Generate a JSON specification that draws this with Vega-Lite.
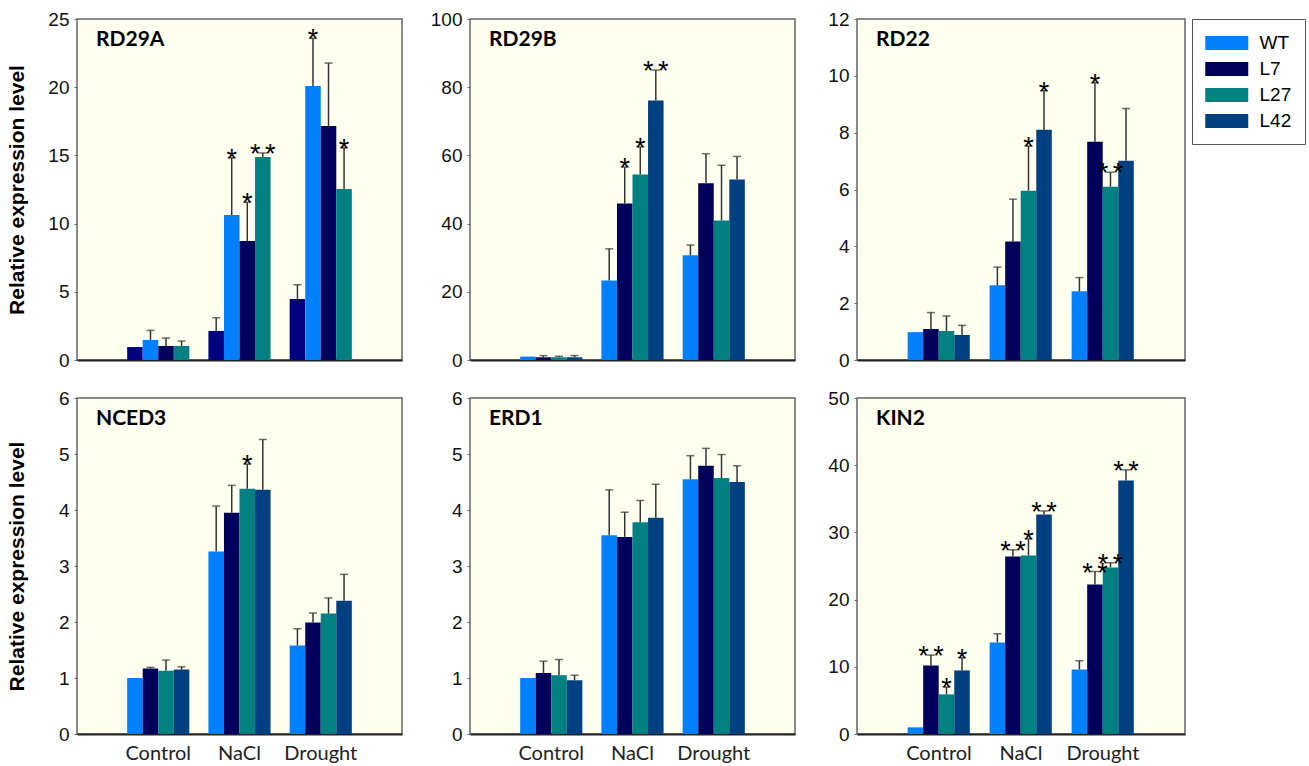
{
  "$schema": "https://vega.github.io/schema/vega-lite/v6.json",
  "padding": {"left": 5, "top": 9, "right": 0, "bottom": 0},
  "background": "white",
  "config": {
    "font": "Liberation Sans",
    "view": {"fill": "#FFFFF0", "stroke": "#666666", "strokeWidth": 1.5},
    "axis": {"grid": false, "ticks": true, "tickSize": 3, "tickColor": "#666666", "domain": false, "labelFont": "Liberation Sans", "labelFontSize": 19, "labelColor": "#111111", "labelPadding": 5},
    "axisX": {"domain": true, "ticks": false, "domainColor": "#222222", "domainWidth": 2, "title": null, "labelAngle": 0},
    "title": {"font": "Lato", "fontSize": 21, "fontWeight": "bold", "anchor": "start", "frame": "group", "baseline": "top", "offset": -40, "dx": 19, "color": "#000000"}
  },
  "datasets": {
    "expr": [
      {"gene": "RD29A", "condition": "Control", "genotype": "WT", "value": 0.95, "err": null, "sig": ""},
      {"gene": "RD29A", "condition": "Control", "genotype": "L7", "value": 1.47, "err": 2.17, "sig": ""},
      {"gene": "RD29A", "condition": "Control", "genotype": "L27", "value": 1.03, "err": 1.61, "sig": ""},
      {"gene": "RD29A", "condition": "Control", "genotype": "L42", "value": 1.03, "err": 1.39, "sig": ""},
      {"gene": "RD29A", "condition": "NaCl", "genotype": "WT", "value": 2.13, "err": 3.10, "sig": ""},
      {"gene": "RD29A", "condition": "NaCl", "genotype": "L7", "value": 10.63, "err": 14.83, "sig": "*"},
      {"gene": "RD29A", "condition": "NaCl", "genotype": "L27", "value": 8.72, "err": 11.56, "sig": "*"},
      {"gene": "RD29A", "condition": "NaCl", "genotype": "L42", "value": 14.88, "err": 15.18, "sig": "*\u2006*"},
      {"gene": "RD29A", "condition": "Drought", "genotype": "WT", "value": 4.47, "err": 5.52, "sig": ""},
      {"gene": "RD29A", "condition": "Drought", "genotype": "L7", "value": 20.09, "err": 23.58, "sig": "*"},
      {"gene": "RD29A", "condition": "Drought", "genotype": "L27", "value": 17.16, "err": 21.77, "sig": ""},
      {"gene": "RD29A", "condition": "Drought", "genotype": "L42", "value": 12.54, "err": 15.57, "sig": "*"},

      {"gene": "RD29B", "condition": "Control", "genotype": "WT", "value": 1.0, "err": null, "sig": ""},
      {"gene": "RD29B", "condition": "Control", "genotype": "L7", "value": 0.8, "err": 1.3, "sig": ""},
      {"gene": "RD29B", "condition": "Control", "genotype": "L27", "value": 0.8, "err": 1.1, "sig": ""},
      {"gene": "RD29B", "condition": "Control", "genotype": "L42", "value": 0.8, "err": 1.3, "sig": ""},
      {"gene": "RD29B", "condition": "NaCl", "genotype": "WT", "value": 23.3, "err": 32.6, "sig": ""},
      {"gene": "RD29B", "condition": "NaCl", "genotype": "L7", "value": 45.9, "err": 56.6, "sig": "*"},
      {"gene": "RD29B", "condition": "NaCl", "genotype": "L27", "value": 54.4, "err": 62.5, "sig": "*"},
      {"gene": "RD29B", "condition": "NaCl", "genotype": "L42", "value": 76.1, "err": 85.0, "sig": "*\u2006*"},
      {"gene": "RD29B", "condition": "Drought", "genotype": "WT", "value": 30.7, "err": 33.7, "sig": ""},
      {"gene": "RD29B", "condition": "Drought", "genotype": "L7", "value": 51.8, "err": 60.5, "sig": ""},
      {"gene": "RD29B", "condition": "Drought", "genotype": "L27", "value": 40.9, "err": 57.1, "sig": ""},
      {"gene": "RD29B", "condition": "Drought", "genotype": "L42", "value": 52.9, "err": 59.7, "sig": ""},

      {"gene": "RD22", "condition": "Control", "genotype": "WT", "value": 0.98, "err": null, "sig": ""},
      {"gene": "RD22", "condition": "Control", "genotype": "L7", "value": 1.09, "err": 1.67, "sig": ""},
      {"gene": "RD22", "condition": "Control", "genotype": "L27", "value": 1.02, "err": 1.55, "sig": ""},
      {"gene": "RD22", "condition": "Control", "genotype": "L42", "value": 0.88, "err": 1.22, "sig": ""},
      {"gene": "RD22", "condition": "NaCl", "genotype": "WT", "value": 2.63, "err": 3.27, "sig": ""},
      {"gene": "RD22", "condition": "NaCl", "genotype": "L7", "value": 4.17, "err": 5.66, "sig": ""},
      {"gene": "RD22", "condition": "NaCl", "genotype": "L27", "value": 5.96, "err": 7.53, "sig": "*"},
      {"gene": "RD22", "condition": "NaCl", "genotype": "L42", "value": 8.10, "err": 9.48, "sig": "*"},
      {"gene": "RD22", "condition": "Drought", "genotype": "WT", "value": 2.42, "err": 2.90, "sig": ""},
      {"gene": "RD22", "condition": "Drought", "genotype": "L7", "value": 7.68, "err": 9.76, "sig": "*"},
      {"gene": "RD22", "condition": "Drought", "genotype": "L27", "value": 6.10, "err": 6.61, "sig": "*\u2006*"},
      {"gene": "RD22", "condition": "Drought", "genotype": "L42", "value": 7.01, "err": 8.85, "sig": ""},

      {"gene": "NCED3", "condition": "Control", "genotype": "WT", "value": 1.0, "err": null, "sig": ""},
      {"gene": "NCED3", "condition": "Control", "genotype": "L7", "value": 1.17, "err": 1.19, "sig": ""},
      {"gene": "NCED3", "condition": "Control", "genotype": "L27", "value": 1.13, "err": 1.32, "sig": ""},
      {"gene": "NCED3", "condition": "Control", "genotype": "L42", "value": 1.15, "err": 1.20, "sig": ""},
      {"gene": "NCED3", "condition": "NaCl", "genotype": "WT", "value": 3.26, "err": 4.07, "sig": ""},
      {"gene": "NCED3", "condition": "NaCl", "genotype": "L7", "value": 3.95, "err": 4.44, "sig": ""},
      {"gene": "NCED3", "condition": "NaCl", "genotype": "L27", "value": 4.38, "err": 4.82, "sig": "*"},
      {"gene": "NCED3", "condition": "NaCl", "genotype": "L42", "value": 4.36, "err": 5.26, "sig": ""},
      {"gene": "NCED3", "condition": "Drought", "genotype": "WT", "value": 1.58, "err": 1.88, "sig": ""},
      {"gene": "NCED3", "condition": "Drought", "genotype": "L7", "value": 1.99, "err": 2.16, "sig": ""},
      {"gene": "NCED3", "condition": "Drought", "genotype": "L27", "value": 2.15, "err": 2.43, "sig": ""},
      {"gene": "NCED3", "condition": "Drought", "genotype": "L42", "value": 2.38, "err": 2.85, "sig": ""},

      {"gene": "ERD1", "condition": "Control", "genotype": "WT", "value": 1.0, "err": null, "sig": ""},
      {"gene": "ERD1", "condition": "Control", "genotype": "L7", "value": 1.09, "err": 1.30, "sig": ""},
      {"gene": "ERD1", "condition": "Control", "genotype": "L27", "value": 1.05, "err": 1.33, "sig": ""},
      {"gene": "ERD1", "condition": "Control", "genotype": "L42", "value": 0.96, "err": 1.05, "sig": ""},
      {"gene": "ERD1", "condition": "NaCl", "genotype": "WT", "value": 3.55, "err": 4.36, "sig": ""},
      {"gene": "ERD1", "condition": "NaCl", "genotype": "L7", "value": 3.52, "err": 3.96, "sig": ""},
      {"gene": "ERD1", "condition": "NaCl", "genotype": "L27", "value": 3.78, "err": 4.17, "sig": ""},
      {"gene": "ERD1", "condition": "NaCl", "genotype": "L42", "value": 3.86, "err": 4.46, "sig": ""},
      {"gene": "ERD1", "condition": "Drought", "genotype": "WT", "value": 4.55, "err": 4.97, "sig": ""},
      {"gene": "ERD1", "condition": "Drought", "genotype": "L7", "value": 4.79, "err": 5.10, "sig": ""},
      {"gene": "ERD1", "condition": "Drought", "genotype": "L27", "value": 4.57, "err": 4.99, "sig": ""},
      {"gene": "ERD1", "condition": "Drought", "genotype": "L42", "value": 4.50, "err": 4.79, "sig": ""},

      {"gene": "KIN2", "condition": "Control", "genotype": "WT", "value": 0.99, "err": null, "sig": ""},
      {"gene": "KIN2", "condition": "Control", "genotype": "L7", "value": 10.2, "err": 11.74, "sig": "*\u2006*"},
      {"gene": "KIN2", "condition": "Control", "genotype": "L27", "value": 5.90, "err": 6.99, "sig": "*"},
      {"gene": "KIN2", "condition": "Control", "genotype": "L42", "value": 9.46, "err": 11.35, "sig": "*"},
      {"gene": "KIN2", "condition": "NaCl", "genotype": "WT", "value": 13.63, "err": 14.92, "sig": ""},
      {"gene": "KIN2", "condition": "NaCl", "genotype": "L7", "value": 26.41, "err": 27.40, "sig": "*\u2006*"},
      {"gene": "KIN2", "condition": "NaCl", "genotype": "L27", "value": 26.56, "err": 29.04, "sig": "*"},
      {"gene": "KIN2", "condition": "NaCl", "genotype": "L42", "value": 32.66, "err": 33.2, "sig": "*\u2006*"},
      {"gene": "KIN2", "condition": "Drought", "genotype": "WT", "value": 9.61, "err": 10.90, "sig": ""},
      {"gene": "KIN2", "condition": "Drought", "genotype": "L7", "value": 22.25, "err": 24.18, "sig": "*\u2006*"},
      {"gene": "KIN2", "condition": "Drought", "genotype": "L27", "value": 24.78, "err": 25.47, "sig": "*\u2006*"},
      {"gene": "KIN2", "condition": "Drought", "genotype": "L42", "value": 37.71, "err": 39.30, "sig": "*\u2006*"}
    ]
  },
  "spacing": 17,
  "resolve": {"scale": {"color": "independent"}},
  "vconcat": [
    {
      "spacing": 26,
      "resolve": {"scale": {"color": "independent"}},
      "hconcat": [
        {
          "width": 325, "height": 341,
          "title": {"text": "RD29A"},
          "data": {"name": "expr"},
          "transform": [{"filter": "datum.gene == 'RD29A'"}],
          "encoding": {
            "x": {"field": "condition", "type": "nominal", "scale": {"domain": ["Control", "NaCl", "Drought"], "paddingInner": 0.235, "paddingOuter": 0.6175}, "axis": {"labels": false}},
            "xOffset": {"field": "genotype", "type": "nominal", "scale": {"domain": ["WT", "L7", "L27", "L42"], "paddingInner": 0, "paddingOuter": 0}}
          },
          "layer": [
            {"mark": {"type": "bar"}, "encoding": {
              "y": {"field": "value", "type": "quantitative", "scale": {"domain": [0, 25], "nice": false}, "axis": {"values": [0, 5, 10, 15, 20, 25], "format": "d", "labelFont": "Liberation Sans", "title": "Relative expression level", "titleFont": "Liberation Sans", "titleFontSize": 21, "titleFontWeight": "bold", "titleColor": "#000000", "titlePadding": 19, "minExtent": 31, "maxExtent": 31}},
              "color": {"field": "genotype", "type": "nominal", "scale": {"domain": ["WT", "L7", "L27", "L42"], "range": ["#000080", "#0080FF", "#00005A", "#008080"]}, "legend": null}}},
            {"transform": [{"filter": "datum.err != null"}], "mark": {"type": "rule", "color": "#333333", "strokeWidth": 1.5}, "encoding": {"y": {"field": "value", "type": "quantitative"}, "y2": {"field": "err"}}},
            {"transform": [{"filter": "datum.err != null"}], "mark": {"type": "tick", "color": "#333333", "size": 8, "thickness": 1.5}, "encoding": {"y": {"field": "err", "type": "quantitative"}}},
            {"transform": [{"filter": "datum.sig != ''"}], "mark": {"type": "text", "font": "Liberation Sans", "fontSize": 27, "baseline": "alphabetic", "dy": 10, "color": "#000000"}, "encoding": {"y": {"field": "err", "type": "quantitative"}, "text": {"field": "sig"}}}
          ]
        },
        {
          "width": 325, "height": 341,
          "title": {"text": "RD29B"},
          "data": {"name": "expr"},
          "transform": [{"filter": "datum.gene == 'RD29B'"}],
          "encoding": {
            "x": {"field": "condition", "type": "nominal", "scale": {"domain": ["Control", "NaCl", "Drought"], "paddingInner": 0.235, "paddingOuter": 0.6175}, "axis": {"labels": false}},
            "xOffset": {"field": "genotype", "type": "nominal", "scale": {"domain": ["WT", "L7", "L27", "L42"], "paddingInner": 0, "paddingOuter": 0}}
          },
          "layer": [
            {"mark": {"type": "bar"}, "encoding": {
              "y": {"field": "value", "type": "quantitative", "scale": {"domain": [0, 100], "nice": false}, "axis": {"values": [0, 20, 40, 60, 80, 100], "format": "d", "labelFont": "Liberation Sans", "title": null, "minExtent": 39}},
              "color": {"field": "genotype", "type": "nominal", "scale": {"domain": ["WT", "L7", "L27", "L42"], "range": ["#0080FF", "#00005A", "#008080", "#004080"]}, "legend": null}}},
            {"transform": [{"filter": "datum.err != null"}], "mark": {"type": "rule", "color": "#333333", "strokeWidth": 1.5}, "encoding": {"y": {"field": "value", "type": "quantitative"}, "y2": {"field": "err"}}},
            {"transform": [{"filter": "datum.err != null"}], "mark": {"type": "tick", "color": "#333333", "size": 8, "thickness": 1.5}, "encoding": {"y": {"field": "err", "type": "quantitative"}}},
            {"transform": [{"filter": "datum.sig != ''"}], "mark": {"type": "text", "font": "Liberation Sans", "fontSize": 27, "baseline": "alphabetic", "dy": 10, "color": "#000000"}, "encoding": {"y": {"field": "err", "type": "quantitative"}, "text": {"field": "sig"}}}
          ]
        },
        {
          "width": 328, "height": 341,
          "title": {"text": "RD22"},
          "data": {"name": "expr"},
          "transform": [{"filter": "datum.gene == 'RD22'"}],
          "encoding": {
            "x": {"field": "condition", "type": "nominal", "scale": {"domain": ["Control", "NaCl", "Drought"], "paddingInner": 0.235, "paddingOuter": 0.6175}, "axis": {"labels": false}},
            "xOffset": {"field": "genotype", "type": "nominal", "scale": {"domain": ["WT", "L7", "L27", "L42"], "paddingInner": 0, "paddingOuter": 0}}
          },
          "layer": [
            {"mark": {"type": "bar"}, "encoding": {
              "y": {"field": "value", "type": "quantitative", "scale": {"domain": [0, 12], "nice": false}, "axis": {"values": [0, 2, 4, 6, 8, 10, 12], "format": "d", "labelFont": "Liberation Sans", "title": null, "minExtent": 34}},
              "color": {"field": "genotype", "type": "nominal", "scale": {"domain": ["WT", "L7", "L27", "L42"], "range": ["#0080FF", "#00005A", "#008080", "#004080"]},
                "legend": {"title": null, "orient": "right", "offset": 7, "padding": 13, "strokeColor": "#555555", "fillColor": "#FFFFFF", "symbolType": "M-1,-0.65H3V0.65H-1Z", "symbolSize": 462.25, "symbolStrokeWidth": 0, "symbolOpacity": 1, "labelFont": "Liberation Sans", "labelFontSize": 19, "labelColor": "#000000", "labelOffset": 32.5, "rowPadding": 5}}}},
            {"transform": [{"filter": "datum.err != null"}], "mark": {"type": "rule", "color": "#333333", "strokeWidth": 1.5}, "encoding": {"y": {"field": "value", "type": "quantitative"}, "y2": {"field": "err"}}},
            {"transform": [{"filter": "datum.err != null"}], "mark": {"type": "tick", "color": "#333333", "size": 8, "thickness": 1.5}, "encoding": {"y": {"field": "err", "type": "quantitative"}}},
            {"transform": [{"filter": "datum.sig != ''"}], "mark": {"type": "text", "font": "Liberation Sans", "fontSize": 27, "baseline": "alphabetic", "dy": 10, "color": "#000000"}, "encoding": {"y": {"field": "err", "type": "quantitative"}, "text": {"field": "sig"}}}
          ]
        }
      ]
    },
    {
      "spacing": 26,
      "resolve": {"scale": {"color": "independent"}},
      "hconcat": [
        {
          "width": 325, "height": 336,
          "title": {"text": "NCED3"},
          "data": {"name": "expr"},
          "transform": [{"filter": "datum.gene == 'NCED3'"}],
          "encoding": {
            "x": {"field": "condition", "type": "nominal", "scale": {"domain": ["Control", "NaCl", "Drought"], "paddingInner": 0.235, "paddingOuter": 0.6175}, "axis": {"labelFont": "Lato", "labelFontSize": 20, "labelColor": "#222222", "labelPadding": 9}},
            "xOffset": {"field": "genotype", "type": "nominal", "scale": {"domain": ["WT", "L7", "L27", "L42"], "paddingInner": 0, "paddingOuter": 0}}
          },
          "layer": [
            {"mark": {"type": "bar"}, "encoding": {
              "y": {"field": "value", "type": "quantitative", "scale": {"domain": [0, 6], "nice": false}, "axis": {"values": [0, 1, 2, 3, 4, 5, 6], "format": "d", "labelFont": "Liberation Sans", "title": "Relative expression level", "titleFont": "Liberation Sans", "titleFontSize": 21, "titleFontWeight": "bold", "titleColor": "#000000", "titlePadding": 19, "minExtent": 31, "maxExtent": 31}},
              "color": {"field": "genotype", "type": "nominal", "scale": {"domain": ["WT", "L7", "L27", "L42"], "range": ["#0080FF", "#00005A", "#008080", "#004080"]}, "legend": null}}},
            {"transform": [{"filter": "datum.err != null"}], "mark": {"type": "rule", "color": "#333333", "strokeWidth": 1.5}, "encoding": {"y": {"field": "value", "type": "quantitative"}, "y2": {"field": "err"}}},
            {"transform": [{"filter": "datum.err != null"}], "mark": {"type": "tick", "color": "#333333", "size": 8, "thickness": 1.5}, "encoding": {"y": {"field": "err", "type": "quantitative"}}},
            {"transform": [{"filter": "datum.sig != ''"}], "mark": {"type": "text", "font": "Liberation Sans", "fontSize": 27, "baseline": "alphabetic", "dy": 10, "color": "#000000"}, "encoding": {"y": {"field": "err", "type": "quantitative"}, "text": {"field": "sig"}}}
          ]
        },
        {
          "width": 325, "height": 336,
          "title": {"text": "ERD1"},
          "data": {"name": "expr"},
          "transform": [{"filter": "datum.gene == 'ERD1'"}],
          "encoding": {
            "x": {"field": "condition", "type": "nominal", "scale": {"domain": ["Control", "NaCl", "Drought"], "paddingInner": 0.235, "paddingOuter": 0.6175}, "axis": {"labelFont": "Lato", "labelFontSize": 20, "labelColor": "#222222", "labelPadding": 9}},
            "xOffset": {"field": "genotype", "type": "nominal", "scale": {"domain": ["WT", "L7", "L27", "L42"], "paddingInner": 0, "paddingOuter": 0}}
          },
          "layer": [
            {"mark": {"type": "bar"}, "encoding": {
              "y": {"field": "value", "type": "quantitative", "scale": {"domain": [0, 6], "nice": false}, "axis": {"values": [0, 1, 2, 3, 4, 5, 6], "format": "d", "labelFont": "Liberation Sans", "title": null, "minExtent": 40}},
              "color": {"field": "genotype", "type": "nominal", "scale": {"domain": ["WT", "L7", "L27", "L42"], "range": ["#0080FF", "#00005A", "#008080", "#004080"]}, "legend": null}}},
            {"transform": [{"filter": "datum.err != null"}], "mark": {"type": "rule", "color": "#333333", "strokeWidth": 1.5}, "encoding": {"y": {"field": "value", "type": "quantitative"}, "y2": {"field": "err"}}},
            {"transform": [{"filter": "datum.err != null"}], "mark": {"type": "tick", "color": "#333333", "size": 8, "thickness": 1.5}, "encoding": {"y": {"field": "err", "type": "quantitative"}}},
            {"transform": [{"filter": "datum.sig != ''"}], "mark": {"type": "text", "font": "Liberation Sans", "fontSize": 27, "baseline": "alphabetic", "dy": 10, "color": "#000000"}, "encoding": {"y": {"field": "err", "type": "quantitative"}, "text": {"field": "sig"}}}
          ]
        },
        {
          "width": 328, "height": 336,
          "title": {"text": "KIN2"},
          "data": {"name": "expr"},
          "transform": [{"filter": "datum.gene == 'KIN2'"}],
          "encoding": {
            "x": {"field": "condition", "type": "nominal", "scale": {"domain": ["Control", "NaCl", "Drought"], "paddingInner": 0.235, "paddingOuter": 0.6175}, "axis": {"labelFont": "Lato", "labelFontSize": 20, "labelColor": "#222222", "labelPadding": 9}},
            "xOffset": {"field": "genotype", "type": "nominal", "scale": {"domain": ["WT", "L7", "L27", "L42"], "paddingInner": 0, "paddingOuter": 0}}
          },
          "layer": [
            {"mark": {"type": "bar"}, "encoding": {
              "y": {"field": "value", "type": "quantitative", "scale": {"domain": [0, 50], "nice": false}, "axis": {"values": [0, 10, 20, 30, 40, 50], "format": "d", "labelFont": "Liberation Sans", "title": null, "minExtent": 34}},
              "color": {"field": "genotype", "type": "nominal", "scale": {"domain": ["WT", "L7", "L27", "L42"], "range": ["#0080FF", "#00005A", "#008080", "#004080"]}, "legend": null}}},
            {"transform": [{"filter": "datum.err != null"}], "mark": {"type": "rule", "color": "#333333", "strokeWidth": 1.5}, "encoding": {"y": {"field": "value", "type": "quantitative"}, "y2": {"field": "err"}}},
            {"transform": [{"filter": "datum.err != null"}], "mark": {"type": "tick", "color": "#333333", "size": 8, "thickness": 1.5}, "encoding": {"y": {"field": "err", "type": "quantitative"}}},
            {"transform": [{"filter": "datum.sig != ''"}], "mark": {"type": "text", "font": "Liberation Sans", "fontSize": 27, "baseline": "alphabetic", "dy": 10, "color": "#000000"}, "encoding": {"y": {"field": "err", "type": "quantitative"}, "text": {"field": "sig"}}}
          ]
        }
      ]
    }
  ]
}
